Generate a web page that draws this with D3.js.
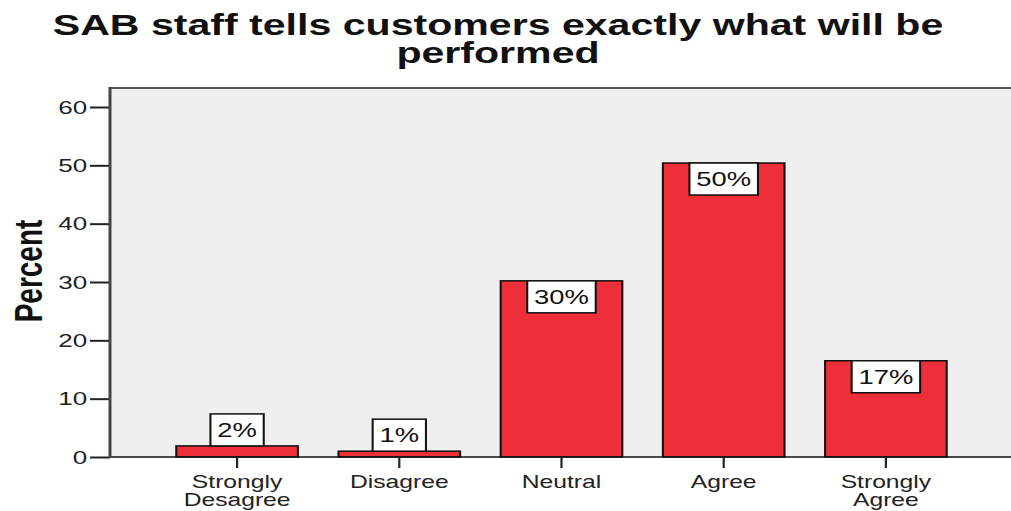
<!DOCTYPE html>
<html>
<head>
<meta charset="utf-8">
<script src="https://cdn.jsdelivr.net/npm/d3@7"></script>
<style>
  html, body { margin: 0; padding: 0; background: #ffffff; }
  svg { display: block; }
  text { font-family: Arial, "Liberation Sans", Helvetica, sans-serif; }
</style>
</head>
<body>
<svg id="chart" width="1011" height="511"></svg>
<script>
// ---- data ----
const titleLines = ["SAB staff tells customers exactly what will be", "performed"];
const categories = [["Strongly", "Desagree"], ["Disagree"], ["Neutral"], ["Agree"], ["Strongly", "Agree"]];
const values = [1.9, 1.0, 30.2, 50.4, 16.5];
const yTicks = [0, 10, 20, 30, 40, 50, 60];
const yLabel = "Percent";

// ---- layout (screen px); the whole chart is horizontally stretched ----
const SX = 1.37;
const W = 1011, H = 511;
const plotLeft = 110, plotRight = 1011, plotTop = 88, plotBottom = 457;
const ix = v => v / SX; // screen x -> inner x

const svg = d3.select("#chart");
const g = svg.append("g").attr("transform", `scale(${SX},1)`);

const y = d3.scaleLinear().domain([0, 60]).range([plotBottom, 107]);
const x = d3.scaleBand()
  .domain(d3.range(categories.length))
  .range([ix(156), ix(967)])
  .paddingInner(0.25)
  .paddingOuter(0.125);

// plot background
g.append("rect")
  .attr("x", ix(plotLeft)).attr("y", plotTop)
  .attr("width", ix(plotRight) - ix(plotLeft) + 2)
  .attr("height", plotBottom - plotTop)
  .attr("fill", "#efefef");

// top border
g.append("line")
  .attr("x1", ix(plotLeft)).attr("x2", ix(plotRight) + 2)
  .attr("y1", plotTop).attr("y2", plotTop)
  .attr("stroke", "#555").attr("stroke-width", 2.2);

// bars
g.selectAll("rect.bar").data(values).join("rect")
  .attr("class", "bar")
  .attr("x", (d, i) => x(i))
  .attr("y", d => y(d))
  .attr("width", x.bandwidth())
  .attr("height", d => y(0) - y(d))
  .attr("fill", "#ee2f3a")
  .attr("stroke", "#111")
  .attr("stroke-width", 1.5);

// x axis baseline
g.append("line")
  .attr("x1", ix(plotLeft)).attr("x2", ix(plotRight) + 2)
  .attr("y1", plotBottom).attr("y2", plotBottom)
  .attr("stroke", "#111").attr("stroke-width", 1.6);

// y axis
const yAxis = d3.axisLeft(y).tickValues(yTicks).tickSize(ix(20)).tickPadding(2);
const yg = g.append("g").attr("transform", `translate(${ix(plotLeft)},0)`).call(yAxis);
yg.select(".domain").remove();
yg.selectAll(".tick line").attr("stroke", "#222").attr("stroke-width", 2);
yg.selectAll(".tick text")
  .attr("font-size", 19).attr("fill", "#222")
  .attr("font-family", "Arial, 'Liberation Sans', sans-serif");
g.append("line")
  .attr("x1", ix(plotLeft)).attr("x2", ix(plotLeft))
  .attr("y1", plotTop - 1).attr("y2", plotBottom + 1)
  .attr("stroke", "#444").attr("stroke-width", 2.2);

// x axis ticks + labels
const xAxis = d3.axisBottom(x).tickSize(11).tickFormat("");
const xg = g.append("g").attr("transform", `translate(0,${plotBottom})`).call(xAxis);
xg.select(".domain").remove();
xg.selectAll(".tick line").attr("stroke", "#222").attr("stroke-width", 1.6);

const catLabels = g.selectAll("text.cat").data(categories).join("text")
  .attr("class", "cat")
  .attr("x", (d, i) => x(i) + x.bandwidth() / 2)
  .attr("y", 488)
  .attr("text-anchor", "middle")
  .attr("font-size", 18)
  .attr("fill", "#222");
catLabels.selectAll("tspan").data(d => d).join("tspan")
  .attr("x", function () { return d3.select(this.parentNode).attr("x"); })
  .attr("dy", (d, i) => i === 0 ? 0 : 18.5)
  .text(d => d);

// value labels
const fmt = d => Math.round(d) + "%";
const lab = g.selectAll("g.vlab").data(values).join("g").attr("class", "vlab");
lab.each(function (d, i) {
  const sel = d3.select(this);
  const cx = x(i) + x.bandwidth() / 2;
  const t = sel.append("text")
    .attr("text-anchor", "middle")
    .attr("font-size", 20)
    .attr("fill", "#111")
    .text(fmt(d));
  const tw = t.node().getComputedTextLength();
  const bw = tw + 10, bh = 32;
  const barH = y(0) - y(d);
  const top = barH > bh + 4 ? y(d) : y(d) - bh;
  sel.insert("rect", "text")
    .attr("x", cx - bw / 2).attr("y", top)
    .attr("width", bw).attr("height", bh)
    .attr("fill", "#fff")
    .attr("stroke", "#111")
    .attr("stroke-width", 1.5);
  t.attr("x", cx).attr("y", top + 23);
});

// y label
g.append("text")
  .attr("transform", `translate(${ix(42)},271) rotate(-90)`)
  .attr("text-anchor", "middle")
  .attr("font-size", 28)
  .attr("font-weight", "bold")
  .attr("fill", "#111")
  .text(yLabel);

// title
g.selectAll("text.title").data(titleLines).join("text")
  .attr("class", "title")
  .attr("x", ix(498))
  .attr("y", (d, i) => 35 + i * 28)
  .attr("text-anchor", "middle")
  .attr("font-size", 30)
  .attr("font-weight", "bold")
  .attr("fill", "#111")
  .text(d => d);
</script>
</body>
</html>
